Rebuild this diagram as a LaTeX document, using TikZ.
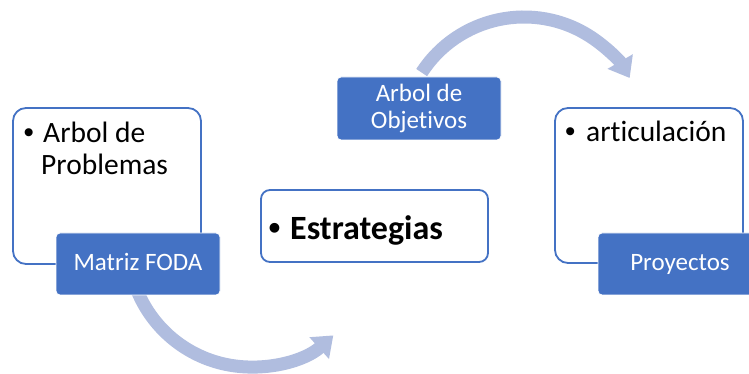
\documentclass[tikz,border=0pt]{standalone}
\usepackage{fontspec}
\setmainfont[Ligatures={NoCommon}]{Carlito}
\newfontfamily\bulletfont{Liberation Sans}
\usetikzlibrary{arrows.meta}
\definecolor{accent}{RGB}{68,114,196}
\definecolor{arrowc}{RGB}{176,189,223}
\begin{document}
\begin{tikzpicture}[x=1pt,y=1pt,
  lightbox/.style={draw=accent, line width=1.8pt, fill=white, rounded corners=13pt, inner sep=0pt, outer sep=0pt},
  darkbox/.style={fill=accent, draw=white, line width=0.8pt, rounded corners=4pt, text=white,
    font=\fontsize{25}{27.5}\selectfont, align=center, inner sep=0pt, outer sep=0pt,
    minimum width=164pt, minimum height=62pt},
  oneline/.style={text height=17pt, text depth=4pt},
  bodytext/.style={font=\fontsize{29.5}{32}\selectfont, anchor=base west, inner sep=0pt},
  bullettext/.style={font=\fontsize{29.5}{32}\bulletfont, anchor=base west, inner sep=0pt},
  boldtext/.style={font=\fontsize{34}{40}\selectfont\bfseries, anchor=base west, inner sep=0pt},
  circarrow/.style={draw=arrowc, line width=13pt, -{Triangle[length=19pt,width=28pt]}}]
\useasboundingbox (0,0) rectangle (749,374);
\clip (0,0) rectangle (749,374);
\fill[white] (0,0) rectangle (749,374);
% arc centres of the circular arrows
\coordinate (c1) at (251,130);
\coordinate (c2) at (524,235);
\draw[circarrow] (c1) ++(200:123) arc[start angle=200, end angle=312, radius=123];
\draw[circarrow] (c2) ++(147:122) arc[start angle=147, end angle=30, radius=122];
% boxes
\node[lightbox, minimum width=188pt, minimum height=156pt] (probbox) at (107,188) {};
\node[lightbox, minimum width=227pt, minimum height=72pt, rounded corners=9pt] (estbox) at (374.5,148) {};
\node[lightbox, minimum width=188pt, minimum height=155pt] (artbox) at (649,188.5) {};
\node[darkbox, oneline] (foda) at (138,110) {Matriz FODA};
\node[darkbox, oneline] (proy) at (680,110) {Proyectos};
\node[darkbox, minimum height=63pt] (obj) at (419,265.5) {Arbol de\\Objetivos};
% texts
\node[bullettext] (bul1) at (23.5,231) {•};
\node[bodytext] (p1) at (43,231) {Arbol de};
\node[bodytext] (p2) at (41,199) {Problemas};
\node[bullettext] (bul2) at (565,232) {•};
\node[bodytext] (a1) at (586,232) {articulación};
\node[bullettext, font=\fontsize{34}{40}\bulletfont\bfseries] (bul3) at (268.5,134) {•};
\node[boldtext] (e1) at (290,134) {Estrategias};
\end{tikzpicture}
\end{document}
